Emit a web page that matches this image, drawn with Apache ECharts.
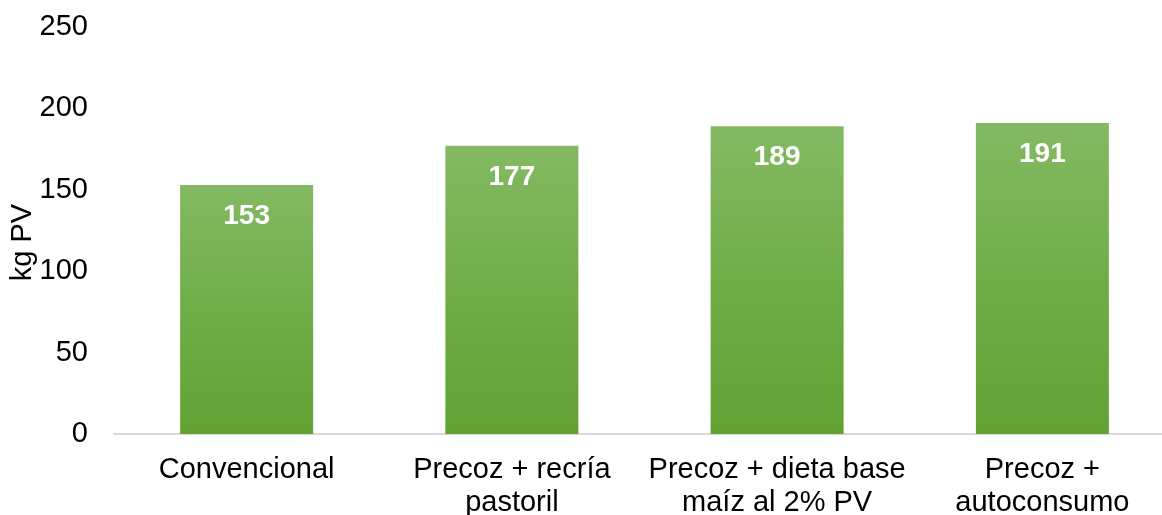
<!DOCTYPE html>
<html>
<head>
<meta charset="utf-8">
<script src="https://cdn.jsdelivr.net/npm/echarts@6/dist/echarts.min.js"></script>
<style>
  html, body { margin: 0; padding: 0; background: #fff; }
  #main { width: 1162px; height: 515px; }
</style>
</head>
<body>
<div id="main"></div>
<script>
// categorias y valores (kg PV)
let categories = ['Convencional', 'Precoz + recría\npastoril', 'Precoz + dieta base\nmaíz al 2% PV', 'Precoz +\nautoconsumo'];
let values = [153, 177, 189, 191];
let yTicks = [0, 50, 100, 150, 200, 250];

let myChart = echarts.init(document.getElementById('main'));

let font = '"Liberation Sans", Arial, sans-serif';

let option = {
    backgroundColor: '#fff',
    animation: false,
    grid: {
        left: 114,
        right: -13,
        top: 27,
        bottom: 81,
        containLabel: false,
        outerBoundsMode: 'none'
    },
    xAxis: {
        type: 'category',
        data: categories,
        axisTick: {show: false},
        axisLine: {lineStyle: {color: '#d9d9d9', width: 2}},
        axisLabel: {
            interval: 0,
            color: '#000',
            fontFamily: font,
            fontSize: 29,
            lineHeight: 33,
            margin: 19
        }
    },
    yAxis: {
        type: 'value',
        min: yTicks[0],
        max: yTicks[yTicks.length - 1],
        interval: 50,
        name: 'kg PV',
        nameLocation: 'middle',
        nameGap: 77,
        nameMoveOverlap: false,
        nameTextStyle: {
            color: '#000',
            fontFamily: font,
            fontSize: 29,
            padding: [0, 24, 0, 0]
        },
        axisLine: {show: false},
        axisTick: {show: false},
        splitLine: {show: false},
        axisLabel: {
            color: '#000',
            fontFamily: font,
            fontSize: 29,
            margin: 26
        }
    },
    series: [{
        type: 'bar',
        data: values,
        barWidth: 133,
        itemStyle: {
            color: new echarts.graphic.LinearGradient(0, 0, 0, 1, [
                {offset: 0, color: '#84b963'},
                {offset: 0.5, color: '#70ad47'},
                {offset: 1, color: '#61a233'}
            ])
        },
        label: {
            show: true,
            position: 'insideTop',
            distance: 17,
            color: '#fff',
            fontFamily: font,
            fontWeight: 'bold',
            fontSize: 28
        }
    }]
};

myChart.setOption(option);
</script>
</body>
</html>
